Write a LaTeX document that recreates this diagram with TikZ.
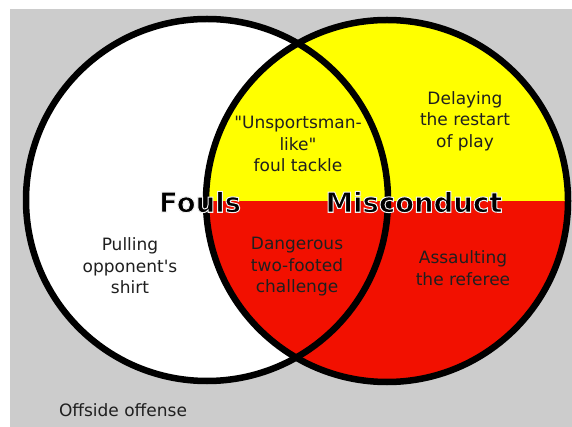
\documentclass[tikz,border=0pt]{standalone}
\usepackage{fontspec}
\setmainfont{DejaVu Sans}[Ligatures=TeXOff]
\definecolor{bggray}{RGB}{204,204,204}
\definecolor{vennred}{RGB}{242,16,0}
\definecolor{vennyellow}{RGB}{255,255,0}
% black letters with a thin white rim
\newcommand{\haloed}[1]{\special{pdf:literal direct 2 Tr 0.95 G 1.0 w}#1\special{pdf:literal direct 0 Tr 0 G}}

\begin{document}
\begin{tikzpicture}[x=1pt,y=-1pt,
  setlabel/.style={align=center,font=\fontsize{17}{21.5}\selectfont,text=black!88},
  settitle/.style={font=\fontsize{27.5}{30}\selectfont\bfseries,text=black},
  ring/.style={line width=6.5pt}
]
  \useasboundingbox (0,0) rectangle (572,427);
  \fill[bggray] (10,9) rectangle (572,427);
  % fills of the two sets
  \fill[white] (207,200) circle (181);
  \begin{scope}
    \clip (387,201) circle (181);
    \fill[vennyellow] (200,0) rectangle (572,201);
    \fill[vennred] (200,201) rectangle (572,400);
  \end{scope}
  % outlines
  \draw[ring] (207,200) circle (181);
  \draw[ring] (387,201) circle (181);
  % texts
  \node[settitle] (fouls) at (200,202) {\haloed{Fouls}};
  \node[settitle] (misconduct) at (414,202) {\haloed{Misconduct}};
  \node[setlabel] (delay) at (465,121) {Delaying\\the restart\\of play};
  \node[setlabel] (unsporting) at (298,144) {"Unsportsman-\\like"\\foul tackle};
  \node[setlabel] (twofooted) at (297,267) {Dangerous\\two-footed\\challenge};
  \node[setlabel] (shirt) at (130,266) {Pulling\\opponent's\\shirt};
  \node[setlabel] (assault) at (463,268) {Assaulting\\the referee};
  \node[setlabel] (offside) at (123,410) {Offside offense};
\end{tikzpicture}
\end{document}
